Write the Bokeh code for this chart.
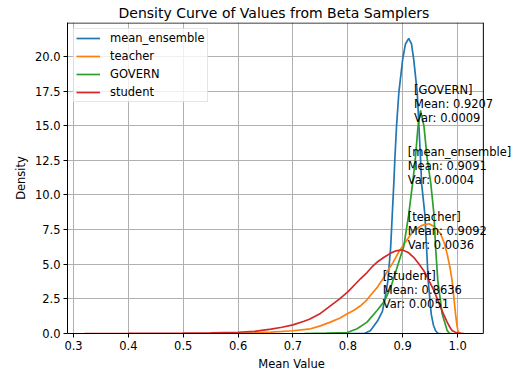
from bokeh.plotting import figure
from bokeh.models import (FixedTicker, PrintfTickFormatter, Range1d, Label,
                          BoxAnnotation, Span)
from bokeh.embed import file_html
from bokeh.resources import INLINE

# ---- data ----
ens_x = [0.80, 0.83, 0.841, 0.854, 0.863, 0.868, 0.873, 0.878, 0.881, 0.884, 0.8857,
         0.8888, 0.893, 0.900, 0.905, 0.911, 0.916, 0.920, 0.9265, 0.9295, 0.9325,
         0.9345, 0.9404, 0.9435, 0.9465, 0.952, 0.956, 0.960, 0.964, 0.97]
ens_y = [0.0, 0.0, 0.2, 0.9, 1.6, 2.6, 3.8, 6.2, 8.6, 11.0, 12.6,
         15.0, 17.4, 19.8, 20.9, 21.3, 20.9, 19.8, 17.4, 15.0, 12.6,
         10.8, 8.6, 6.2, 3.8, 1.4, 0.6, 0.2, 0.02, 0.0]

teacher_x = [0.55, 0.60, 0.63, 0.66, 0.70, 0.732, 0.75, 0.768, 0.785, 0.799, 0.812,
             0.823, 0.833, 0.841, 0.854, 0.866, 0.872, 0.882, 0.893, 0.905, 0.92,
             0.935, 0.948, 0.958, 0.969, 0.976, 0.981, 0.986, 0.990, 0.993, 0.9963,
             0.9985, 1.0005, 1.003, 1.006]
teacher_y = [0.0, 0.02, 0.05, 0.1, 0.2, 0.34, 0.55, 0.82, 1.1, 1.42, 1.7,
             2.0, 2.35, 2.74, 3.35, 4.07, 4.5, 5.1, 5.9, 6.6, 7.44,
             7.8, 7.92, 7.7, 7.2, 6.5, 5.75, 4.8, 3.83, 2.7, 1.42,
             0.7, 0.22, 0.02, 0.0]

govern_x = [0.72, 0.76, 0.799, 0.817, 0.835, 0.854, 0.866, 0.878, 0.890, 0.902, 0.911,
            0.9185, 0.923, 0.928, 0.9325, 0.9386, 0.9447, 0.951, 0.957, 0.960, 0.964,
            0.972, 0.981, 0.985, 0.99]
govern_y = [0.0, 0.02, 0.07, 0.34, 0.82, 1.7, 2.3, 3.3, 4.8, 6.3, 8.6,
            11.0, 12.6, 15.0, 16.1, 15.0, 12.6, 10.9, 8.6, 6.2, 3.8,
            1.4, 0.22, 0.02, 0.0]

student_x = [0.32, 0.40, 0.45, 0.50, 0.55, 0.60, 0.63, 0.66, 0.68, 0.70, 0.72, 0.73,
             0.75, 0.77, 0.785, 0.80, 0.812, 0.823, 0.835, 0.845, 0.855, 0.866, 0.878,
             0.888, 0.899, 0.91, 0.92, 0.93, 0.939, 0.948, 0.957, 0.963, 0.969, 0.975,
             0.981, 0.986, 0.99, 0.996, 1.002, 1.011]
student_y = [0.0, 0.005, 0.01, 0.02, 0.04, 0.09, 0.16, 0.32, 0.45, 0.62, 0.88, 1.03,
             1.45, 2.05, 2.5, 3.0, 3.5, 3.95, 4.4, 4.85, 5.2, 5.5, 5.8,
             5.97, 6.04, 5.85, 5.5, 5.0, 4.5, 3.8, 3.1, 2.5, 1.9, 1.35,
             0.82, 0.45, 0.22, 0.08, 0.02, 0.0]

ann_names = ["GOVERN", "mean_ensemble", "teacher", "student"]
ann_means = [0.9207, 0.9091, 0.9092, 0.8636]
ann_vars = [0.0009, 0.0004, 0.0036, 0.0051]
ann_y = [18.05, 13.6, 8.95, 4.64]

x_ticks = [0.3, 0.4, 0.5, 0.6, 0.7, 0.8, 0.9, 1.0]
y_ticks = [0.0, 2.5, 5.0, 7.5, 10.0, 12.5, 15.0, 17.5, 20.0]

X_LO, X_HI = 0.289, 1.047      # visible axes box
Y_LO, Y_HI = 0.0, 22.45
X_EXT = 1.1056                  # extra room on the right for the annotations

FONT = "DejaVu Sans"
FS = "11.5px"

p = figure(width=515, height=376, output_backend="svg", toolbar_location=None,
           x_range=Range1d(X_LO, X_EXT), y_range=Range1d(Y_LO, Y_HI),
           min_border_left=67, min_border_right=0, min_border_top=22,
           min_border_bottom=43,
           title="Density Curve of Values from Beta Samplers")

p.title.align = "left"
p.title.offset = 51
p.title.text_font = FONT
p.title.text_font_size = "14px"
p.title.text_font_style = "normal"
p.title.text_color = "black"
p.title.standoff = 4

p.background_fill_color = "white"
p.border_fill_color = "white"
p.outline_line_color = None

for ax in (p.xaxis[0], p.yaxis[0]):
    ax.axis_line_color = "black"
    ax.major_tick_line_color = "black"
    ax.major_tick_out = 4
    ax.major_tick_in = 0
    ax.minor_tick_line_color = None
    ax.major_label_text_font = FONT
    ax.major_label_text_font_size = FS
    ax.major_label_text_color = "black"
    ax.axis_label_text_font = FONT
    ax.axis_label_text_font_size = FS
    ax.axis_label_text_font_style = "normal"
    ax.axis_label_text_color = "black"
    ax.formatter = PrintfTickFormatter(format="%.1f")

p.xaxis.ticker = FixedTicker(ticks=x_ticks)
p.yaxis.ticker = FixedTicker(ticks=y_ticks)
p.xaxis.bounds = (X_LO, X_HI)
p.xaxis.axis_label = "Mean Value"
p.yaxis.axis_label = "Density"
p.xaxis.axis_label_standoff = 4
p.yaxis.axis_label_standoff = 4
p.xaxis.major_label_standoff = 3
p.yaxis.major_label_standoff = 3

p.grid.grid_line_color = "#b0b0b0"
p.grid.grid_line_width = 1

LW = 1.7
p.line(ens_x, ens_y, color="#1f77b4", line_width=LW, legend_label="mean_ensemble")
p.line(teacher_x, teacher_y, color="#ff7f0e", line_width=LW, legend_label="teacher")
p.line(govern_x, govern_y, color="#2ca02c", line_width=LW, legend_label="GOVERN")
p.line(student_x, student_y, color="#d62728", line_width=LW, legend_label="student")

# white cover for the area to the right of the axes box, then the right and top spines
p.add_layout(BoxAnnotation(left=X_HI, fill_color="white", fill_alpha=1,
                           line_color=None, level="underlay"))
p.add_layout(Span(location=X_HI, dimension="height", line_color="black",
                  line_width=1))
p.add_layout(BoxAnnotation(left=X_LO, right=X_HI, top=Y_HI, bottom=Y_HI - 0.075,
                           fill_color="black", fill_alpha=1, line_color=None))

for n, m, v, yy in zip(ann_names, ann_means, ann_vars, ann_y):
    lines = [f"[{n}]", f"Mean: {m:.4f}", f"Var: {v:.4f}"]
    for i, t in enumerate(lines):
        p.add_layout(Label(x=m, y=yy, y_offset=-14 * i, text=t,
                           text_font=FONT, text_font_size=FS, text_color="black",
                           text_baseline="top", text_align="left"))

lg = p.legend[0]
lg.location = "top_left"
lg.margin = 6
lg.padding = 2
lg.spacing = 4
lg.glyph_width = 24
lg.glyph_height = 14
lg.label_height = 14
lg.label_standoff = 10
lg.label_text_font = FONT
lg.label_text_font_size = FS
lg.label_text_color = "black"
lg.border_line_color = "#cccccc"
lg.border_line_width = 1
lg.background_fill_color = "white"
lg.background_fill_alpha = 0.8

open("out.html", "w").write(file_html(p, INLINE))
